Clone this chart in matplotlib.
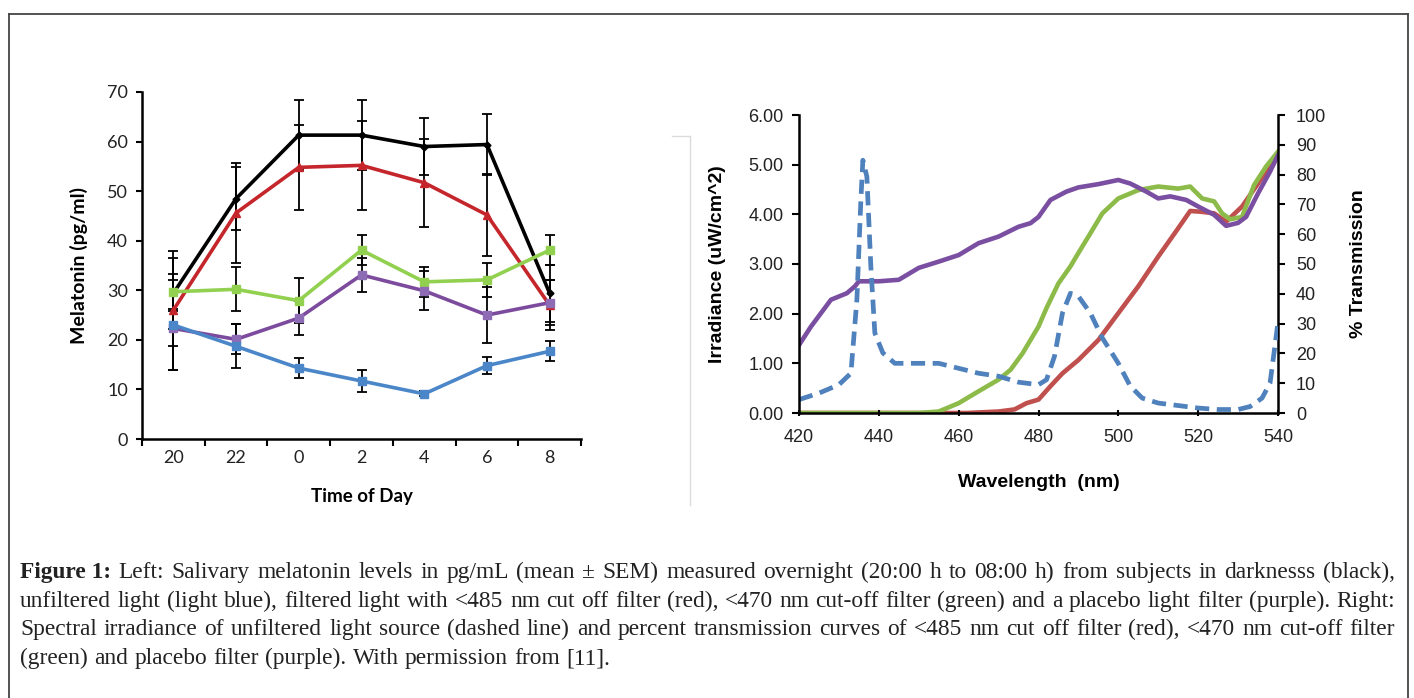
import matplotlib

matplotlib.use("Agg")
import matplotlib.pyplot as plt
from matplotlib.lines import Line2D

# left panel: melatonin over the night
hours = ["20", "22", "0", "2", "4", "6", "8"]
dark = [29.4, 48.5, 61.3, 61.3, 59.0, 59.4, 29.4]
dark_err = [7.2, 6.3, 7.1, 7.0, 5.7, 6.2, 5.8]
red485 = [26.0, 45.6, 54.8, 55.2, 51.7, 45.2, 27.0]
red485_err = [12.0, 10.0, 8.6, 9.0, 8.9, 8.2, 5.0]
green470 = [29.7, 30.2, 27.9, 38.1, 31.7, 32.1, 38.1]
green470_err = [3.5, 4.4, 4.5, 3.0, 3.0, 3.5, 3.0]
placebo = [22.3, 20.1, 24.4, 33.1, 29.9, 25.0, 27.5]
placebo_err = [3.5, 3.0, 3.4, 3.5, 3.9, 5.7, 4.5]
unfiltered = [23.0, 18.7, 14.3, 11.7, 9.1, 14.8, 17.7]
unfiltered_err = [9.0, 4.4, 2.0, 2.3, 0.5, 1.7, 2.0]

# right panel: spectra
wl_src = [420, 425, 430, 433, 434.5, 435.5, 436, 437, 438, 439, 441, 444, 455, 460, 465,
          470, 475, 480, 482, 484, 486, 488, 490, 493, 496, 500, 503, 506, 510, 515,
          520, 525, 530, 533, 536, 538, 539, 540]
irr_src = [0.27, 0.4, 0.57, 0.8, 2.28, 4.29, 5.09, 4.76, 2.95, 1.61, 1.21, 1.0, 1.0, 0.9, 0.8,
           0.74, 0.62, 0.57, 0.67, 1.14, 2.01, 2.41, 2.35, 2.01, 1.51, 1.0, 0.54, 0.3, 0.2, 0.15,
           0.1, 0.07, 0.07, 0.13, 0.3, 0.6, 1.21, 1.83]
wl_placebo = [420, 423, 428, 432, 434, 435, 440, 445, 450, 455, 460, 465, 470, 475, 478, 480, 483,
              487, 490, 495, 500, 503, 507, 510, 513, 517, 520, 524, 527, 530, 532, 535, 538, 540]
tr_placebo = [22.8, 29, 38, 40.2, 42.5, 44.2, 44.2, 44.7, 48.7, 50.8, 53, 57, 59.2, 62.5, 63.7, 65.8,
              71.5, 74.3, 75.7, 76.8, 78.2, 77, 74.3, 72, 72.7, 71.5, 69.3, 66.5, 62.8, 63.8, 65.8,
              73.7, 81, 86.5]
wl_470 = [420, 450, 455, 460, 465, 470, 473, 476, 478, 480, 482, 485, 488, 490, 493, 496, 500, 505,
          510, 515, 518, 521, 524, 526, 528, 531, 534, 537, 540]
tr_470 = [0, 0, 0.5, 3.3, 7.3, 11.2, 14.5, 20, 24.5, 29, 35.2, 43.5, 49.2, 53.7, 60.3, 67, 72, 74.8,
          76, 75.3, 76, 72, 71, 67, 65, 65.8, 76.5, 82.7, 87.7]
wl_485 = [420, 462, 470, 474, 477, 480, 483, 486, 490, 495, 500, 505, 510, 515, 518, 521, 524, 527,
          531, 535, 540]
tr_485 = [0, 0, 0.5, 1.2, 3.3, 4.5, 9, 13.3, 17.8, 24.5, 33.5, 42.5, 52.5, 62, 67.8, 67.5, 67, 64.2,
          69.3, 77, 87.2]

caption = [
    "Left: Salivary melatonin levels in pg/mL (mean ± SEM) measured overnight (20:00 h to 08:00 h) "
    "from subjects in darknesss (black),",
    "unfiltered light (light blue), filtered light with <485 nm cut off filter (red), <470 nm cut-off "
    "filter (green) and a placebo light filter (purple). Right:",
    "Spectral irradiance of unfiltered light source (dashed line) and percent transmission curves of "
    "<485 nm cut off filter (red), <470 nm cut-off filter",
    "(green) and placebo filter (purple). With permission from [11].",
]

W, H = 1414, 698
fig = plt.figure(figsize=(W / 100, H / 100), dpi=100)


def fx(px):
    return px / W


def fy(py):
    return 1 - py / H


# ---- left panel ----
ax = fig.add_axes([fx(142), fy(439), fx(439), (439 - 92) / H])
x = list(range(len(hours)))
series = [
    (dark, dark_err, "black", "D", "black", 3.5),
    (red485, red485_err, "#c4262b", "^", "#c4262b", 6),
    (green470, green470_err, "#92d050", "s", "#92d050", 6),
    (placebo, placebo_err, "#7d4b9e", "s", "#8e6bb5", 6),
    (unfiltered, unfiltered_err, "#4a86c8", "s", "#4a86c8", 6),
]
for vals, err, col, mk, mcol, ms in series:
    ax.errorbar(x, vals, yerr=err, color=col, lw=2.6, marker=mk, ms=ms, mfc=mcol, mec=mcol,
                ecolor="black", elinewidth=1.3, capsize=3.5, capthick=1.3, zorder=3)
ax.set_xlim(-0.5, 6.5)
ax.set_ylim(0, 70)
ax.set_yticks(range(0, 71, 10))
ax.set_xticks(x)
ax.set_xticklabels(hours)
ax.set_xticks([i + 0.5 for i in range(-1, 7)], minor=True)
ax.tick_params(axis="x", which="major", length=0, pad=8, labelsize=13)
ax.tick_params(axis="x", which="minor", length=5, width=1.5, direction="out")
ax.tick_params(axis="y", length=4, width=1.5, pad=6, labelsize=13)
for lab in ax.get_xticklabels() + ax.get_yticklabels():
    lab.set_family("Lato")
    lab.set_color("#222222")
for s in ["top", "right"]:
    ax.spines[s].set_visible(False)
for s in ["left", "bottom"]:
    ax.spines[s].set_linewidth(1.8)
ax.set_xlabel("Time of Day", family="Lato", fontsize=13.5, fontweight="bold", labelpad=16)
ax.set_ylabel("Melatonin (pg/ml)", family="Lato", fontsize=14, fontweight="bold", labelpad=14)

# ---- right panel ----
ax1 = fig.add_axes([fx(799), fy(413), fx(479), (413 - 115) / H])
ax2 = ax1.twinx()
ax2.plot(wl_485, tr_485, color="#c0504d", lw=3.3)
ax2.plot(wl_470, tr_470, color="#8dbb4a", lw=3.3)
ax2.plot(wl_placebo, tr_placebo, color="#7a4fa2", lw=3.3)
ax1.plot(wl_src, irr_src, color="#4f81bd", lw=3.4, dashes=(3, 1.6))
ax1.set_zorder(ax2.get_zorder() + 1)
ax1.patch.set_visible(False)
ax1.set_xlim(420, 540)
ax1.set_ylim(0, 6)
ax2.set_ylim(0, 100)
ax1.set_xticks(range(420, 541, 20))
ax1.set_yticks(range(0, 7))
ax1.set_yticklabels([f"{v:.2f}" for v in range(0, 7)])
ax2.set_yticks(range(0, 101, 10))
font_r = "Liberation Sans"
ax1.tick_params(axis="x", length=5, width=1.5, direction="inout", pad=9, labelsize=13)
ax1.tick_params(axis="y", length=5, width=1.5, direction="out", pad=6, labelsize=13)
ax2.tick_params(axis="y", length=5, width=1.5, direction="out", pad=8, labelsize=13)
for lab in ax1.get_xticklabels() + ax1.get_yticklabels() + ax2.get_yticklabels():
    lab.set_family(font_r)
    lab.set_color("#222222")
for a in (ax1, ax2):
    a.spines["top"].set_visible(False)
    for s in ["left", "bottom", "right"]:
        a.spines[s].set_linewidth(1.8)
ax2.spines["left"].set_visible(False)
ax2.spines["bottom"].set_visible(False)
ax1.spines["right"].set_visible(False)
ax1.set_xlabel("Wavelength  (nm)", family=font_r, fontsize=14, fontweight="bold")
ax1.set_ylabel("Irradiance (uW/cm^2)", family=font_r, fontsize=14, fontweight="bold")
ax2.set_ylabel("% Transmission", family=font_r, fontsize=14, fontweight="bold")
ax1.xaxis.set_label_coords(0.5, -0.205)
ax1.yaxis.set_label_coords(-0.152, 0.5)
ax2.yaxis.set_label_coords(1.15, 0.5)

# faint scan edge between the two panels
fig.add_artist(Line2D([fx(690), fx(690)], [fy(136), fy(505)], color="#dcdcdc", lw=1))
fig.add_artist(Line2D([fx(672), fx(690)], [fy(136), fy(136)], color="#dcdcdc", lw=1))

# outer frame
frame = dict(color="#444444", lw=1.3)
fig.add_artist(Line2D([fx(9), fx(1408)], [fy(14), fy(14)], **frame))
fig.add_artist(Line2D([fx(9), fx(9)], [fy(14), 0], **frame))
fig.add_artist(Line2D([fx(1408), fx(1408)], [fy(14), 0], **frame))

# justified caption
renderer = fig.canvas.get_renderer()
left_px, right_px = 20, 1395
baselines = [578, 607, 635, 664]
for i, line in enumerate(caption):
    size = 16.8
    while True:
        cap_font = dict(family="Liberation Serif", fontsize=size, color="#222222", va="baseline")
        texts = []
        if i == 0:
            texts.append(fig.text(0, 0, "Figure 1:", fontweight="bold", **cap_font))
        for w in line.split(" "):
            texts.append(fig.text(0, 0, w, **cap_font))
        widths = [t.get_window_extent(renderer=renderer).width for t in texts]
        if i < len(caption) - 1:
            gap = (right_px - left_px - sum(widths)) / (len(texts) - 1)
        else:
            gap = size * 100 / 72 * 0.27
        if gap >= 3 or size < 12:
            break
        for t in texts:
            t.remove()
        size -= 0.3
    pos = left_px
    for t, wd in zip(texts, widths):
        t.set_position((fx(pos), fy(baselines[i])))
        pos += wd + gap

fig.savefig("out.png", dpi=100)
plt.close(fig)
